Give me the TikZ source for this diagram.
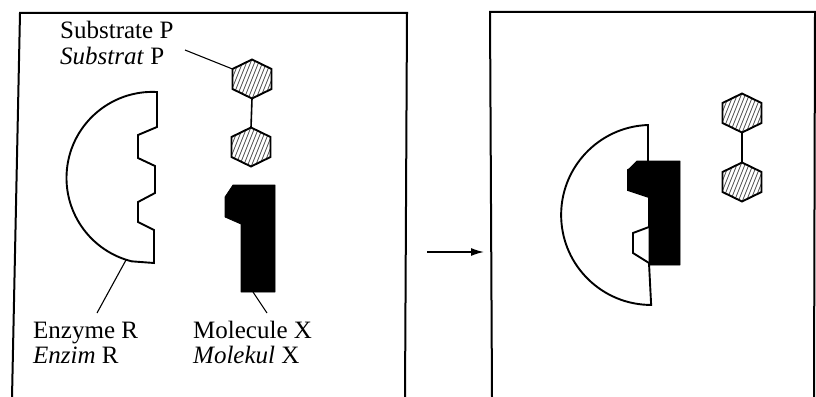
\documentclass[tikz,border=0pt]{standalone}
\usepackage{fontspec}
\setmainfont{Liberation Serif}
\usetikzlibrary{arrows.meta,calc}

\begin{document}
\begin{tikzpicture}[x=1pt,y=-1pt,
  frame/.style={line width=2pt, line cap=round, line join=miter},
  outline/.style={draw=black, line width=1.9pt, line join=miter, fill=white},
  blackmol/.style={fill=black, draw=black, line width=0.8pt, line join=round},
  leader/.style={line width=1.1pt},
  link/.style={line width=1.6pt},
  lbl/.style={anchor=base west, inner sep=0pt, font=\fontsize{25}{30}\selectfont},
  hexring/.style={draw=black, line width=1.9pt, line join=miter},
  hatch/.style={draw=black!70, line width=0.8pt},
  hex/.pic={
    \coordinate (-n) at (0,-19.5);
    \coordinate (-ne) at (19.5,-10);
    \coordinate (-se) at (19.5,10);
    \coordinate (-s) at (0,19.5);
    \coordinate (-sw) at (-19.5,10);
    \coordinate (-nw) at (-19.5,-10);
    \begin{scope}
      \clip (0,-19.5) -- (19.5,-10) -- (19.5,10) -- (0,19.5) -- (-19.5,10) -- (-19.5,-10) -- cycle;
      \fill[white] (-20,-20) rectangle (20,20);
      \foreach \k in {-44,-40,...,44} \draw[hatch] (\k-10,25) -- (\k+10,-25);
    \end{scope}
    \draw[hexring] (0,-19.5) -- (19.5,-10) -- (19.5,10) -- (0,19.5) -- (-19.5,10) -- (-19.5,-10) -- cycle;
  }
]
\useasboundingbox (0,0) rectangle (816,396);
\fill[white] (0,0) rectangle (816,396);

% panel frames (open at the bottom)
\draw[frame] (12,398) -- (20,13) -- (407,13) -- (405,398);
\draw[frame] (492,398) -- (490,12) -- (815,12) -- (814,398);

% arrow between the panels
\coordinate (arrA) at (427,252);
\coordinate (arrB) at (484,252);
\draw[line width=1.5pt, -{Latex[length=13pt,width=8pt]}] (arrA) -- (arrB);

% ---- left panel ----
% enzyme R with its two notches
\draw[outline] (157,92) arc[start angle=273, end angle=104, radius=86]
  -- (154,263) -- (154,230) -- (138,222) -- (138,202) -- (155,193)
  -- (155,166) -- (138,158) -- (138,135) -- (157,127) -- cycle;
% molecule X
\draw[blackmol] (233,185) -- (275,185) -- (275,292) -- (241,292) -- (241,224)
  -- (225,217) -- (225,197) -- cycle;
% substrate P
\pic (pA) at (252,79) {hex};
\pic (pB) at (251,147) {hex};
\draw[link] (pA-s) -- (pB-n);

% labels
\node[lbl] (subP1) at (60,39) {Substrate P};
\node[lbl] (subP2) at (60,65) {\textit{Substrat} P};
\node[lbl] (enz1) at (33,338) {Enzyme R};
\node[lbl] (enz2) at (33,363) {\textit{Enzim} R};
\node[lbl] (mol1) at (193,338) {Molecule X};
\node[lbl] (mol2) at (193,363) {\textit{Molekul} X};

% leader lines
\coordinate (subEnd) at (185,50);
\coordinate (enzFoot) at (97,313);
\coordinate (enzTip) at (126,260);
\coordinate (molFoot) at (267,313);
\coordinate (molTip) at (253,292);
\draw[leader] (subEnd) -- (pA-nw);
\draw[leader] (enzFoot) -- (enzTip);
\draw[leader] (molFoot) -- (molTip);

% ---- right panel ----
% molecule X bound to enzyme R
\draw[outline] (648,125) arc[start angle=268, end angle=90, radius=90]
  -- (649,263) -- (633,253) -- (633,233) -- (649,227) -- (649,197)
  -- (628,190) -- (628,170) -- (648,163) -- cycle;
\draw[blackmol] (637,161) -- (680,161) -- (680,265) -- (649,265) -- (649,197)
  -- (628,190) -- (628,170) -- cycle;
% free substrate P
\pic (qA) at (742,113) {hex};
\pic (qB) at (742,182) {hex};
\draw[link] (qA-s) -- (qB-n);
\end{tikzpicture}
\end{document}
